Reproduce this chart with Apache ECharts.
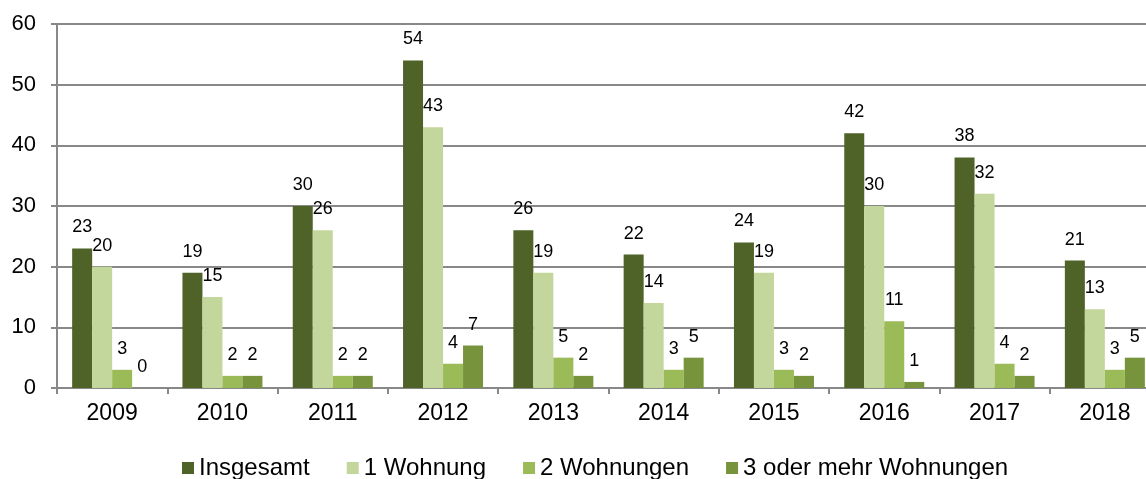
<!DOCTYPE html>
<html>
<head>
<meta charset="utf-8">
<script src="https://cdn.jsdelivr.net/npm/echarts@6/dist/echarts.min.js"></script>
<style>
  html, body { margin: 0; padding: 0; background: #fff; overflow: hidden; }
  #chart { width: 1160px; height: 479px; }
</style>
</head>
<body>
<div id="chart"></div>
<script>
var years = ['2009', '2010', '2011', '2012', '2013', '2014', '2015', '2016', '2017', '2018'];
var insgesamt = [23, 19, 30, 54, 26, 22, 24, 42, 38, 21];
var eineWohnung = [20, 15, 26, 43, 19, 14, 19, 30, 32, 13];
var zweiWohnungen = [3, 2, 2, 4, 5, 3, 3, 11, 4, 3];
var dreiPlus = [0, 2, 2, 7, 2, 5, 2, 1, 2, 5];
var yTicks = [0, 10, 20, 30, 40, 50, 60];

var font = 'Liberation Sans, Arial, sans-serif';

function serie(name, data, color) {
    return {
        name: name,
        type: 'bar',
        data: data,
        barWidth: 20,
        barGap: '0%',
        itemStyle: { color: color },
        label: {
            show: true,
            position: 'top',
            distance: 12,
            color: '#000',
            fontSize: 18,
            fontFamily: font
        }
    };
}

var myChart = echarts.init(document.getElementById('chart'));
var option = {
    animation: false,
    grid: { left: 57, right: 0, top: 24, bottom: 91, containLabel: false },
    legend: {
        top: 456,
        left: 182,
        padding: 0,
        itemWidth: 12,
        itemHeight: 12,
        itemGap: 37,
        icon: 'rect',
        textStyle: { fontSize: 24, fontFamily: font, color: '#000' },
        data: ['Insgesamt', '1 Wohnung', '2 Wohnungen', '3 oder mehr Wohnungen']
    },
    xAxis: {
        type: 'category',
        data: years,
        axisLine: { lineStyle: { color: '#888', width: 2 } },
        axisTick: { show: true, length: 6, lineStyle: { color: '#888', width: 2 } },
        axisLabel: { fontSize: 23, fontFamily: font, color: '#000', margin: 14 }
    },
    yAxis: {
        type: 'value',
        min: yTicks[0],
        max: yTicks[yTicks.length - 1],
        interval: 10,
        axisLine: { show: true, lineStyle: { color: '#888', width: 2 } },
        axisTick: { show: true, length: 6, lineStyle: { color: '#888', width: 2 } },
        axisLabel: { fontSize: 22, fontFamily: font, color: '#000', margin: 21 },
        splitLine: { lineStyle: { color: '#888', width: 2 } }
    },
    series: [
        serie('Insgesamt', insgesamt, '#4f6228'),
        serie('1 Wohnung', eineWohnung, '#c3d69b'),
        serie('2 Wohnungen', zweiWohnungen, '#9bbb59'),
        serie('3 oder mehr Wohnungen', dreiPlus, '#77933c')
    ]
};
myChart.setOption(option);
</script>
</body>
</html>
